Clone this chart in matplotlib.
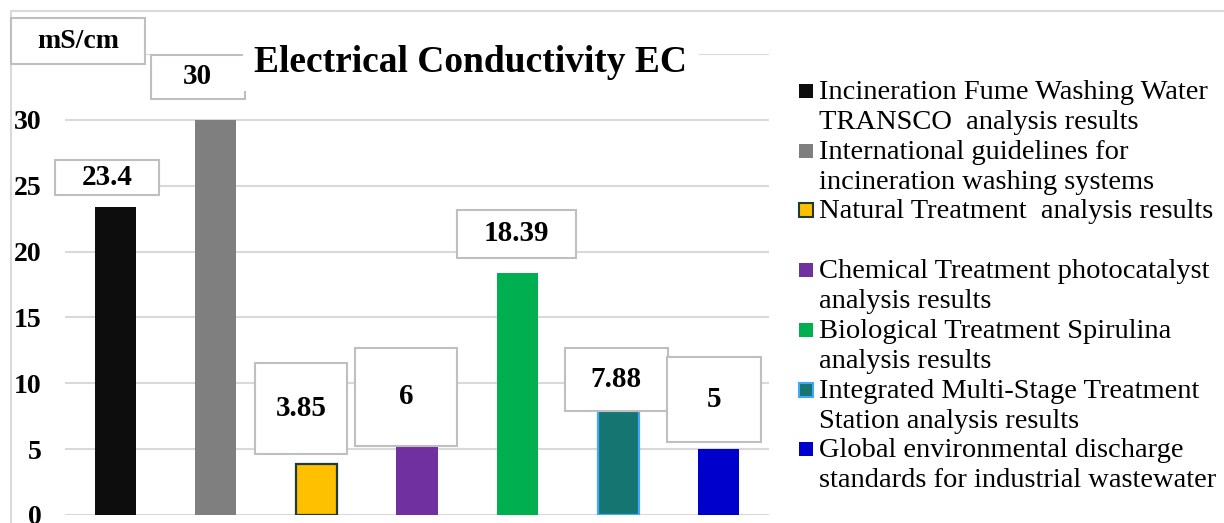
import numpy as np
import matplotlib
matplotlib.use('Agg')
import matplotlib.pyplot as plt
from matplotlib.patches import Rectangle
from matplotlib.transforms import IdentityTransform

# Data
categories = [
    "Incineration Fume Washing Water\nTRANSCO  analysis results",
    "International guidelines for\nincineration washing systems",
    "Natural Treatment  analysis results",
    "Chemical Treatment photocatalyst\nanalysis results",
    "Biological Treatment Spirulina\nanalysis results",
    "Integrated Multi-Stage Treatment\nStation analysis results",
    "Global environmental discharge\nstandards for industrial wastewater",
]
values = [23.4, 30, 3.85, 5.2, 18.39, 7.88, 5]
value_labels = ["23.4", "30", "3.85", "6", "18.39", "7.88", "5"]
yticks = [0, 5, 10, 15, 20, 25, 30, 35]

colors = ['#0d0d0d', '#7f7f7f', '#ffc000', '#7030a0', '#00b050', '#157570', '#0000cc']
edges = [None, None, '#1e3b36', None, None, '#42a5ff', None]

# label box layout: offset of box centre from bar top (px) and box size (px)
box_dx = [-8, -18, -15, -11, -1, -2, -5]
box_dy = [29, 43, 56, 50, 39, 32, 50]
box_w = [104, 94, 92, 102, 119, 103, 94]
box_h = [35, 44, 91, 98, 48, 63, 85]

W, H = 1224, 523
plt.rcParams['font.family'] = ['Liberation Serif', 'DejaVu Serif']

fig = plt.figure(figsize=(W / 100, H / 100), dpi=100)
ax = fig.add_axes([65 / W, 1 - 515 / H, (769 - 65) / W, (515 - 54) / H])

x = np.arange(len(values))
for i in x:
    ec = edges[i] if edges[i] else colors[i]
    lw = 1.6 if edges[i] else 0
    ax.bar(i, values[i], width=0.41, color=colors[i], edgecolor=ec, linewidth=lw, zorder=2)

ax.set_xlim(-0.5, len(values) - 0.5)
ax.set_ylim(0, 35)
ax.set_yticks(yticks)
ax.set_xticks([])
ax.tick_params(axis='y', length=0, pad=17, labelsize=20)
for t in ax.get_yticklabels():
    t.set_fontweight('bold')
ax.yaxis.grid(True, color='#d9d9d9', linewidth=1.5)
ax.set_axisbelow(True)
for s in ax.spines.values():
    s.set_visible(False)

# outer chart border (only top/left visible in the crop)
fig.add_artist(Rectangle((11 / W, -0.1), 1.2, 1 - 11 / H + 0.1, transform=fig.transFigure,
                         facecolor='none', edgecolor='#d9d9d9', linewidth=1.5, zorder=1))

# value label boxes
fig.canvas.draw()
for i in x:
    bx, by = ax.transData.transform((i, values[i]))
    cx, cy = bx + box_dx[i], by + box_dy[i]
    fig.add_artist(Rectangle((cx - box_w[i] / 2, cy - box_h[i] / 2), box_w[i], box_h[i],
                             transform=IdentityTransform(), facecolor='white',
                             edgecolor='#bfbfbf', linewidth=1.5, zorder=4))
    fig.text(cx / W, cy / H, value_labels[i], ha='center', va='center',
             fontsize=21, fontweight='bold', zorder=5)

# unit box
fig.add_artist(Rectangle((11 / W, 1 - 64 / H), 134 / W, 46 / H, transform=fig.transFigure,
                         facecolor='white', edgecolor='#bfbfbf', linewidth=1.5, zorder=4))
fig.text(78 / W, 1 - 41 / H, 'mS/cm', ha='center', va='center', fontsize=20,
         fontweight='bold', zorder=5)

# title
fig.text(471 / W, 1 - 62 / H, 'Electrical Conductivity EC', ha='center', va='center',
         fontsize=27, fontweight='bold', zorder=5,
         bbox=dict(facecolor='white', edgecolor='none', pad=8))

# legend drawn by hand so the handle sits on the first line
for i, lab in enumerate(categories):
    yc = 91 + 59.7 * i
    ec = edges[i] if edges[i] else colors[i]
    fig.add_artist(Rectangle((799 / W, 1 - (yc + 7) / H), 14 / W, 14 / H, transform=fig.transFigure,
                             facecolor=colors[i], edgecolor=ec, linewidth=1.5 if edges[i] else 0,
                             zorder=4))
    fig.text(819 / W, 1 - (yc - 11) / H, lab, ha='left', va='top', fontsize=20.5,
             linespacing=1.27, zorder=5)

fig.savefig('out.png', dpi=100)
